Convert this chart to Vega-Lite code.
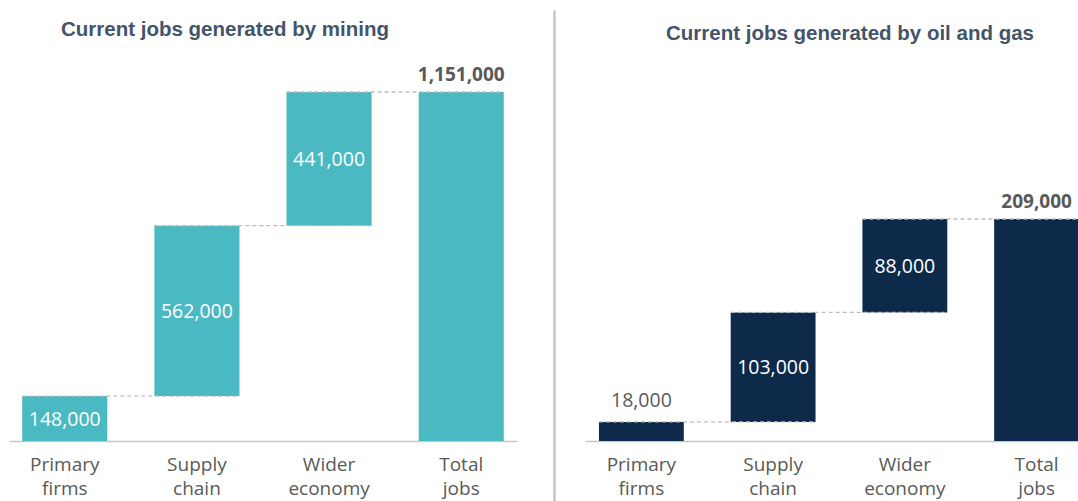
{
  "$schema": "https://vega.github.io/schema/vega-lite/v6.json",
  "padding": {"left": 9, "top": 8, "right": 0, "bottom": 0},
  "background": "white",
  "spacing": 31,
  "datasets": {
    "mining": [
      {"cat": "Primary firms", "start": 0, "end": 148000, "value": 148000, "next": "Supply chain"},
      {"cat": "Supply chain", "start": 148000, "end": 710000, "value": 562000, "next": "Wider economy"},
      {"cat": "Wider economy", "start": 710000, "end": 1151000, "value": 441000, "next": "Total jobs"},
      {"cat": "Total jobs", "start": 0, "end": 1151000, "value": 1151000, "next": null}
    ],
    "oilgas": [
      {"cat": "Primary firms", "start": 0, "end": 18000, "value": 18000, "next": "Supply chain"},
      {"cat": "Supply chain", "start": 18000, "end": 121000, "value": 103000, "next": "Wider economy"},
      {"cat": "Wider economy", "start": 121000, "end": 209000, "value": 88000, "next": "Total jobs"},
      {"cat": "Total jobs", "start": 0, "end": 209000, "value": 209000, "next": null}
    ],
    "divider": [{"v": 0}]
  },
  "hconcat": [
    {
      "width": 508,
      "height": 401,
      "data": {"name": "mining"},
      "title": {"text": ["", "Current jobs generated by mining"], "lineHeight": 11, "dx": -38, "frame": "group", "offset": 0},
      "encoding": {
        "x": {
          "field": "cat", "type": "nominal", "sort": null,
          "scale": {"domain": ["Primary firms", "Supply chain", "Wider economy", "Total jobs"], "paddingInner": 0.356, "paddingOuter": 0.1},
          "axis": {"title": null, "ticks": false, "domainColor": "#c8c8c8", "domainWidth": 1.5, "labelFont": "Open Sans", "labelFontSize": 19, "labelColor": "#595959", "labelLineHeight": 24, "labelPadding": 14, "labelAngle": 0, "labelExpr": "split(datum.label, ' ')"}
        }
      },
      "layer": [
        {
          "mark": {"type": "bar", "color": "#4bb9c2"},
          "encoding": {
            "y": {"field": "start", "type": "quantitative", "scale": {"domain": [0, 1322500]}, "axis": null},
            "y2": {"field": "end"}
          }
        },
        {
          "transform": [{"filter": "datum.cat !== 'Total jobs'"}, {"calculate": "(datum.start + datum.end) / 2", "as": "mid"}],
          "mark": {"type": "text", "color": "white", "font": "Open Sans", "fontSize": 19.5, "baseline": "middle", "dy": 1},
          "encoding": {
            "y": {"field": "mid", "type": "quantitative", "scale": {"domain": [0, 1322500]}, "axis": null},
            "text": {"field": "value", "type": "quantitative", "format": ","}
          }
        },
        {
          "transform": [{"filter": "datum.cat === 'Total jobs'"}],
          "mark": {"type": "text", "color": "#595959", "font": "Open Sans", "fontSize": 19, "fontWeight": "bold", "baseline": "alphabetic", "dy": -11},
          "encoding": {
            "y": {"field": "end", "type": "quantitative", "scale": {"domain": [0, 1322500]}, "axis": null},
            "text": {"field": "value", "type": "quantitative", "format": ","}
          }
        },
        {
          "transform": [{"filter": "datum.next != null"}],
          "mark": {"type": "rule", "color": "#bdbdbd", "strokeWidth": 1.3, "strokeDash": [4, 3]},
          "encoding": {
            "x": {"field": "cat", "type": "nominal", "bandPosition": 0},
            "x2": {"field": "next", "bandPosition": 1},
            "y": {"field": "end", "type": "quantitative", "scale": {"domain": [0, 1322500]}, "axis": null}
          }
        }
      ]
    },
    {
      "width": 6,
      "height": 461,
      "data": {"name": "divider"},
      "mark": {"type": "point", "opacity": 0},
      "encoding": {
        "y": {"field": "v", "type": "quantitative", "scale": {"range": [461, -30]}, "axis": {"orient": "right", "domain": true, "domainColor": "#c6c6c6", "domainWidth": 2.5, "ticks": false, "labels": false, "grid": false, "title": null}}
      }
    },
    {
      "width": 494,
      "height": 401,
      "data": {"name": "oilgas"},
      "title": {"text": ["", "Current jobs generated by oil and gas"], "lineHeight": 15, "dy": 4, "dx": 18, "frame": "group", "offset": 0},
      "encoding": {
        "x": {
          "field": "cat", "type": "nominal", "sort": null,
          "scale": {"domain": ["Primary firms", "Supply chain", "Wider economy", "Total jobs"], "paddingInner": 0.356, "paddingOuter": 0.053, "align": 1},
          "axis": {"title": null, "ticks": false, "domainColor": "#c8c8c8", "domainWidth": 1.5, "labelFont": "Open Sans", "labelFontSize": 19, "labelColor": "#595959", "labelLineHeight": 24, "labelPadding": 14, "labelAngle": 0, "labelExpr": "split(datum.label, ' ')"}
        }
      },
      "layer": [
        {
          "mark": {"type": "bar", "color": "#0e2a4a"},
          "encoding": {
            "y": {"field": "start", "type": "quantitative", "scale": {"domain": [0, 377500]}, "axis": null},
            "y2": {"field": "end"}
          }
        },
        {
          "transform": [{"filter": "datum.cat !== 'Total jobs' && datum.cat !== 'Primary firms'"}, {"calculate": "(datum.start + datum.end) / 2", "as": "mid"}],
          "mark": {"type": "text", "color": "white", "font": "Open Sans", "fontSize": 19.5, "baseline": "middle", "dy": 1},
          "encoding": {
            "y": {"field": "mid", "type": "quantitative", "scale": {"domain": [0, 377500]}, "axis": null},
            "text": {"field": "value", "type": "quantitative", "format": ","}
          }
        },
        {
          "transform": [{"filter": "datum.cat === 'Primary firms'"}],
          "mark": {"type": "text", "color": "#595959", "font": "Open Sans", "fontSize": 19.5, "baseline": "alphabetic", "dy": -15},
          "encoding": {
            "y": {"field": "end", "type": "quantitative", "scale": {"domain": [0, 377500]}, "axis": null},
            "text": {"field": "value", "type": "quantitative", "format": ","}
          }
        },
        {
          "transform": [{"filter": "datum.cat === 'Total jobs'"}],
          "mark": {"type": "text", "color": "#595959", "font": "Open Sans", "fontSize": 19, "fontWeight": "bold", "baseline": "alphabetic", "dy": -11},
          "encoding": {
            "y": {"field": "end", "type": "quantitative", "scale": {"domain": [0, 377500]}, "axis": null},
            "text": {"field": "value", "type": "quantitative", "format": ","}
          }
        },
        {
          "transform": [{"filter": "datum.next != null"}],
          "mark": {"type": "rule", "color": "#bdbdbd", "strokeWidth": 1.3, "strokeDash": [4, 3]},
          "encoding": {
            "x": {"field": "cat", "type": "nominal", "bandPosition": 0},
            "x2": {"field": "next", "bandPosition": 1},
            "y": {"field": "end", "type": "quantitative", "scale": {"domain": [0, 377500]}, "axis": null}
          }
        }
      ]
    }
  ],
  "config": {
    "view": {"stroke": null},
    "axis": {"grid": false},
    "title": {"font": "Liberation Sans", "fontSize": 20.5, "fontWeight": "bold", "color": "#44546a"}
  }
}
